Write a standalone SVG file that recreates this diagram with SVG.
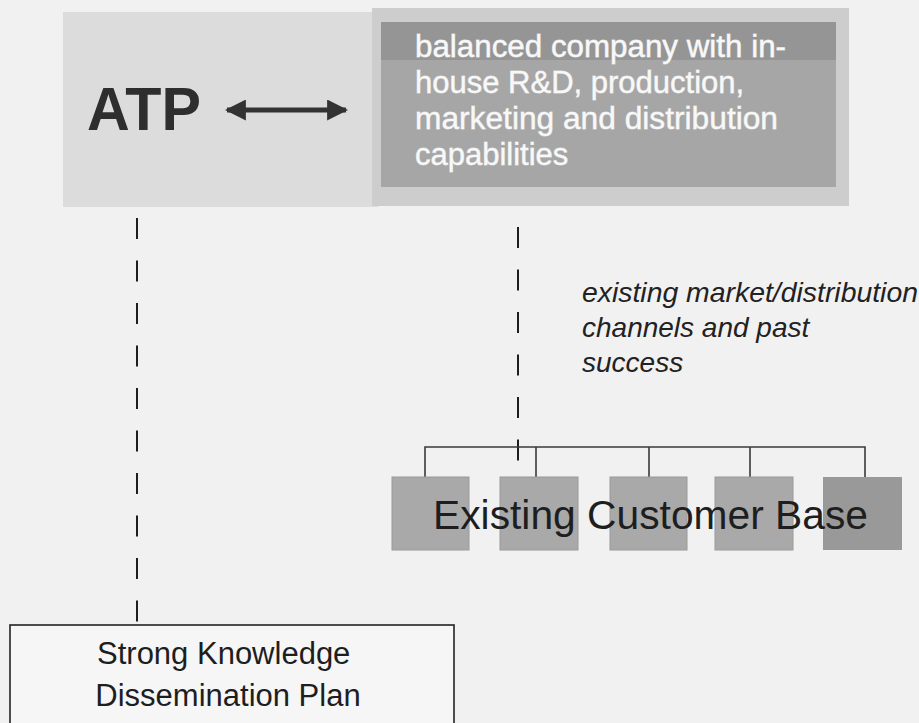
<svg xmlns="http://www.w3.org/2000/svg" width="919" height="723" viewBox="0 0 919 723">
  <defs>
    <style>
      .sans { font-family: "Liberation Sans", Arial, sans-serif; }
      .dash { stroke: #1e1e1e; stroke-width: 2; fill: none; stroke-dasharray: 21 21.5; }
      .tree { stroke: #3a3a3a; stroke-width: 1.6; fill: none; }
      .cust { fill: #a9a9a9; stroke: #9a9a9a; stroke-width: 1; }
      .white { fill: #f8f8f8; stroke: #d8d8d8; stroke-width: 0.8; paint-order: stroke; }
    </style>
    <marker id="head" viewBox="0 0 10 10" refX="9" refY="5" markerWidth="4.2" markerHeight="4.2" orient="auto-start-reverse">
      <path d="M0,0 L10,5 L0,10 Z" fill="#333333"/>
    </marker>
  </defs>

  <rect x="0" y="0" width="919" height="723" fill="#f1f1f1"/>

  <g id="node-atp">
    <rect x="63" y="12" width="315" height="195" fill="#dcdcdc"/>
    <text x="87" y="130" class="sans" font-size="61" font-weight="bold" fill="#2e2e2e" textLength="114" lengthAdjust="spacingAndGlyphs">ATP</text>
  </g>

  <g id="node-company">
    <rect x="372" y="8" width="477" height="198" fill="#cdcdcd"/>
    <rect x="381" y="22" width="455" height="165" fill="#a6a6a6"/>
    <rect x="381" y="22" width="455" height="38" fill="#959595"/>
    <g class="sans white" font-size="31">
      <text x="415" y="57" textLength="371" lengthAdjust="spacingAndGlyphs">balanced company with in-</text>
      <text x="415" y="93">house R&amp;D, production,</text>
      <text x="415" y="129" textLength="363" lengthAdjust="spacingAndGlyphs">marketing and distribution</text>
      <text x="415" y="165">capabilities</text>
    </g>
  </g>

  <g id="connectors">
    <line x1="227" y1="110" x2="346" y2="110" stroke="#333333" stroke-width="5" marker-start="url(#head)" marker-end="url(#head)"/>
    <line class="dash" x1="137" y1="218" x2="137" y2="625"/>
    <line class="dash" x1="518" y1="227" x2="518" y2="461"/>
    <path class="tree" d="M425,477 V447 H865 V477 M536,447 V477 M649,447 V477 M750,447 V477"/>
  </g>

  <g id="label-channels" class="sans" font-size="28" font-style="italic" fill="#222222">
    <text x="582" y="302" textLength="336" lengthAdjust="spacingAndGlyphs">existing market/distribution</text>
    <text x="582" y="337">channels and past</text>
    <text x="582" y="372">success</text>
  </g>

  <g id="node-customers">
    <rect class="cust" x="392" y="477" width="77" height="73"/>
    <rect class="cust" x="500" y="477" width="78" height="73"/>
    <rect class="cust" x="610" y="477" width="77" height="73"/>
    <rect class="cust" x="715" y="477" width="78" height="73"/>
    <rect x="823" y="477" width="79" height="73" fill="#999999"/>
    <text x="433" y="529" class="sans" font-size="41" fill="#1e1e1e" textLength="435" lengthAdjust="spacingAndGlyphs">Existing Customer Base</text>
  </g>

  <g id="node-plan">
    <rect x="10" y="625" width="444" height="110" fill="#f6f6f6" stroke="#222222" stroke-width="1.6"/>
    <text class="sans" font-size="31" fill="#1e1e1e" text-anchor="middle">
      <tspan x="228" y="664">Strong Knowledge</tspan>
      <tspan x="228" y="706">Dissemination Plan</tspan>
    </text>
  </g>
</svg>
